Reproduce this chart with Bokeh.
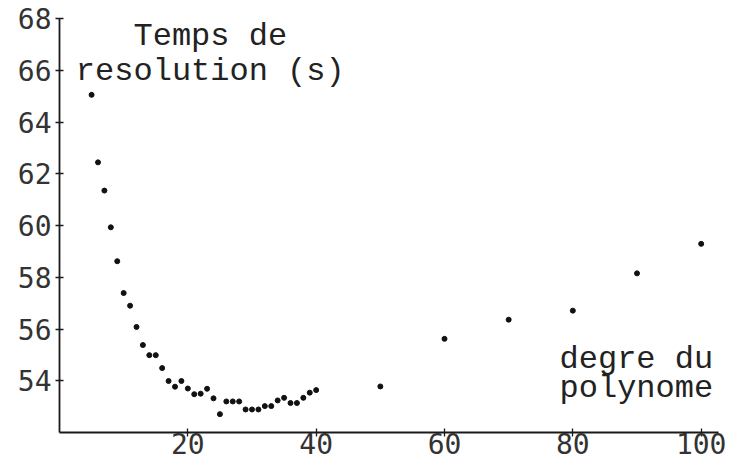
from bokeh.plotting import figure
from bokeh.models import FixedTicker, Label
from bokeh.embed import file_html
from bokeh.resources import INLINE

# degree of the polynomial
degre = [5, 6, 7, 8, 9, 10, 11, 12, 13, 14, 15, 16, 17, 18, 19, 20,
         21, 22, 23, 24, 25, 26, 27, 28, 29, 30, 31, 32, 33, 34, 35, 36,
         37, 38, 39, 40, 50, 60, 70, 80, 90, 100]
# resolution time (s)
temps = [65.05, 62.44, 61.35, 59.93, 58.62, 57.39, 56.90, 56.08, 55.38, 54.99,
         54.99, 54.49, 53.99, 53.77, 53.99, 53.70, 53.48, 53.50, 53.69, 53.32,
         52.71, 53.20, 53.20, 53.20, 52.89, 52.89, 52.89, 53.02, 53.02, 53.24,
         53.34, 53.14, 53.14, 53.34, 53.54, 53.64, 53.78, 55.62, 56.36, 56.71,
         58.15, 59.29]

x_ticks = [20, 40, 60, 80, 100]
y_ticks = [54, 56, 58, 60, 62, 64, 66, 68]

p = figure(width=730, height=465, x_range=(0, 102.7), y_range=(52, 68),
           output_backend="svg", toolbar_location=None,
           min_border_left=59, min_border_right=12, min_border_top=18,
           min_border_bottom=33)
p.xgrid.visible = False
p.ygrid.visible = False
p.outline_line_color = None
p.background_fill_color = "white"
p.border_fill_color = "white"

tick_font = "DejaVu Sans Mono"
for ax in (p.xaxis[0], p.yaxis[0]):
    ax.axis_line_color = "#1a1a1a"
    ax.axis_line_width = 1.8
    ax.major_tick_line_color = "#1a1a1a"
    ax.major_tick_line_width = 1.3
    ax.minor_tick_line_color = None
    ax.major_label_text_font = tick_font
    ax.major_label_text_font_size = "28px"
    ax.major_label_text_color = "#333333"
    ax.major_tick_in = 4
    ax.major_tick_out = 4

p.xaxis.ticker = FixedTicker(ticks=x_ticks)
p.yaxis.ticker = FixedTicker(ticks=y_ticks)
p.xaxis.major_label_standoff = -4
p.yaxis.major_label_standoff = 4

p.scatter(degre, temps, size=5, color="#111111", marker="circle")

lab_font = "Liberation Mono"
for txt, x, y in (("Temps de", 23.5, 67.30), ("resolution (s)", 23.5, 65.95),
                  ("degre du", 89.9, 54.82), ("polynome", 89.9, 53.70)):
    p.add_layout(Label(x=x, y=y, text=txt, text_font=lab_font,
                       text_font_size="32px", text_align="center",
                       text_baseline="alphabetic", text_color="#222222"))

open("out.html", "w").write(file_html(p, INLINE))
